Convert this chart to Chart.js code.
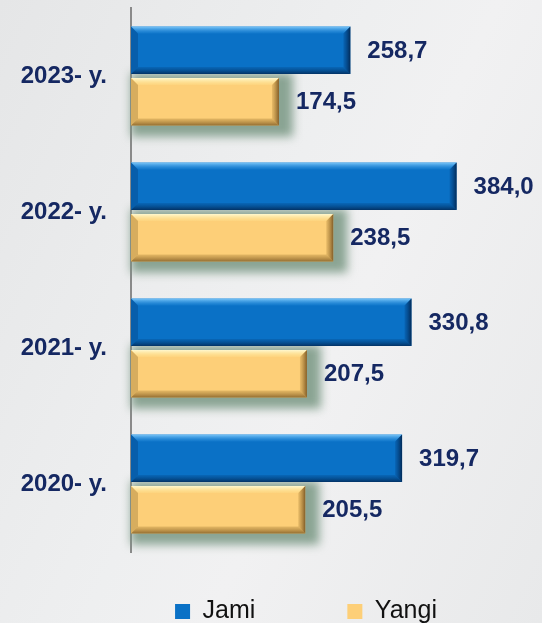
<!DOCTYPE html>
<html>
<head>
<meta charset="utf-8">
<script src="https://cdn.jsdelivr.net/npm/chart.js@4/dist/chart.umd.min.js"></script>
<style>
  html, body { margin: 0; padding: 0; }
  body {
    width: 542px; height: 623px; overflow: hidden;
    background: linear-gradient(115deg, #e5e6e7 0%, #eeeff0 45%, #f1f1f2 60%, #e8e9ea 100%);
  }
  #chartBox { position: relative; width: 542px; height: 623px; }
</style>
</head>
<body>
<div id="chartBox"><canvas id="myChart" width="542" height="623"></canvas></div>
<script>
var categories = ["2023- y.", "2022- y.", "2021- y.", "2020- y."];
var jami = [258.7, 384.0, 330.8, 319.7];
var yangi = [174.5, 238.5, 207.5, 205.5];
var seriesNames = ["Jami", "Yangi"];

var navy = "#152862";
Chart.defaults.font.family = "'Liberation Sans', Arial, sans-serif";

// bevel look on each bar (light top, dark bottom and right end)
var bevelBars = {
  id: "bevelBars",
  afterDatasetDraw: function (chart, args) {
    var ctx = chart.ctx;
    var i = args.index;
    var light = i === 0 ? ["rgba(140,210,255,0.9)", "rgba(60,160,235,0.15)"] : ["rgba(255,250,210,0.95)", "rgba(255,232,150,0.2)"];
    var dark = i === 0 ? ["rgba(0,60,120,0.2)", "rgba(0,30,70,0.75)"] : ["rgba(150,110,40,0.25)", "rgba(110,75,25,0.75)"];
    var side = i === 0 ? ["rgba(0,50,110,0.2)", "rgba(0,25,60,0.8)"] : ["rgba(150,110,40,0.2)", "rgba(100,65,20,0.8)"];
    args.meta.data.forEach(function (bar) {
      var p = bar.getProps(["x", "y", "base", "height"], true);
      var left = p.base, right = p.x, top = p.y - p.height / 2, bottom = p.y + p.height / 2;
      var b = 7;
      ctx.save();
      var g = ctx.createLinearGradient(0, top, 0, top + b);
      g.addColorStop(0, light[0]);
      g.addColorStop(1, light[1]);
      ctx.fillStyle = g;
      ctx.beginPath();
      ctx.moveTo(left, top); ctx.lineTo(right, top); ctx.lineTo(right - b, top + b); ctx.lineTo(left + b, top + b);
      ctx.closePath(); ctx.fill();
      g = ctx.createLinearGradient(0, bottom - b, 0, bottom);
      g.addColorStop(0, dark[0]);
      g.addColorStop(1, dark[1]);
      ctx.fillStyle = g;
      ctx.beginPath();
      ctx.moveTo(left, bottom); ctx.lineTo(right, bottom); ctx.lineTo(right - b, bottom - b); ctx.lineTo(left + b, bottom - b);
      ctx.closePath(); ctx.fill();
      g = ctx.createLinearGradient(right - b, 0, right, 0);
      g.addColorStop(0, side[0]);
      g.addColorStop(1, side[1]);
      ctx.fillStyle = g;
      ctx.beginPath();
      ctx.moveTo(right, top); ctx.lineTo(right, bottom); ctx.lineTo(right - b, bottom - b); ctx.lineTo(right - b, top + b);
      ctx.closePath(); ctx.fill();
      ctx.fillStyle = i === 0 ? "rgba(0,40,90,0.25)" : "rgba(130,95,35,0.3)";
      ctx.beginPath();
      ctx.moveTo(left, top); ctx.lineTo(left + b, top + b); ctx.lineTo(left + b, bottom - b); ctx.lineTo(left, bottom);
      ctx.closePath(); ctx.fill();
      ctx.restore();
    });
  }
};

// greenish-grey glow behind the Yangi bars
var barShadow = {
  id: "barShadow",
  beforeDatasetDraw: function (chart, args) {
    if (args.index !== 1) return;
    var ctx = chart.ctx;
    ctx.save();
    ctx.filter = "blur(5px)";
    ctx.fillStyle = "rgba(120,150,130,0.85)";
    args.meta.data.forEach(function (bar) {
      var p = bar.getProps(["x", "y", "base", "height"], true);
      var top = p.y - p.height / 2;
      ctx.fillRect(p.base, top - 5, p.x - p.base + 14, p.height + 16);
    });
    ctx.restore();
  }
};

// value labels after the bar ends
var valueLabels = {
  id: "valueLabels",
  afterDatasetsDraw: function (chart) {
    var ctx = chart.ctx;
    ctx.save();
    ctx.font = "bold 24px 'Liberation Sans', Arial, sans-serif";
    ctx.fillStyle = navy;
    ctx.textAlign = "left";
    ctx.textBaseline = "middle";
    chart.data.datasets.forEach(function (ds, i) {
      chart.getDatasetMeta(i).data.forEach(function (bar, j) {
        var txt = ds.data[j].toFixed(1).replace(".", ",");
        ctx.fillText(txt, bar.x + 17, bar.y + 1);
      });
    });
    ctx.restore();
  }
};

// keep legend low at the bottom, a bit right of centre
var legendPlacement = {
  id: "legendPlacement",
  beforeInit: function (chart) {
    var fit = chart.legend.fit;
    chart.legend.fit = function () {
      fit.call(this);
      this.height = 71;
    };
  },
  afterLayout: function (chart) {
    chart.legend.top = 507;
    chart.legend.left += 37;
    chart.legend.right += 37;
  }
};

var ctx = document.getElementById("myChart").getContext("2d");
var chart = new Chart(ctx, {
  type: "bar",
  data: {
    labels: categories,
    datasets: [
      {
        label: seriesNames[0],
        data: jami,
        backgroundColor: "#0a71c6",
        borderWidth: 0,
        categoryPercentage: 0.76,
        barPercentage: 0.92
      },
      {
        label: seriesNames[1],
        data: yangi,
        backgroundColor: "#fdcf78",
        borderWidth: 0,
        categoryPercentage: 0.76,
        barPercentage: 0.92
      }
    ]
  },
  options: {
    indexAxis: "y",
    responsive: false,
    animation: false,
    layout: { padding: { top: 8, right: 4, left: 0, bottom: 0 } },
    scales: {
      x: { display: false, min: 0, max: 480 },
      y: {
        grid: { display: false, drawTicks: false },
        border: { display: true, color: "#8a8a8a", width: 2 },
        ticks: {
          color: navy,
          padding: 24,
          font: { size: 24, weight: "bold" }
        },
        afterFit: function (scale) {
          scale.width = 131;
          scale.paddingTop = 0;
          scale.paddingBottom = 0;
        }
      }
    },
    plugins: {
      legend: {
        position: "bottom",
        labels: {
          color: "#111",
          font: { size: 25 },
          boxWidth: 15,
          boxHeight: 15,
          padding: 92
        }
      },
      tooltip: { enabled: false }
    }
  },
  plugins: [barShadow, bevelBars, valueLabels, legendPlacement]
});
</script>
</body>
</html>
